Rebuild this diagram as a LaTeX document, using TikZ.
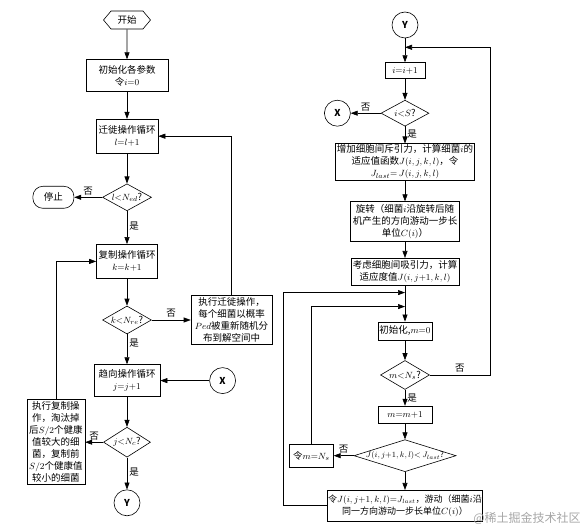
\documentclass[tikz,border=0pt]{standalone}
\usepackage{fontspec}
\setmainfont{Noto Sans CJK SC}
\usepackage{tikz}
\usetikzlibrary{arrows.meta, positioning, shapes.geometric, shapes.symbols}

\begin{document}
\begin{tikzpicture}[
    x=1pt, y=1pt,
    every node/.style={font=\fontsize{9.5}{12}\selectfont},
    box/.style={rectangle, draw, line width=0.6pt, inner sep=1pt,
                align=center},
    term/.style={signal, signal to=west and east, signal pointer angle=100,
                 draw, line width=0.6pt, inner sep=1pt,
                 minimum width=47pt, minimum height=18pt},
    stopbox/.style={box, rounded corners=10pt,
                    minimum width=41pt, minimum height=22pt},
    decision/.style={diamond, draw, line width=0.6pt, aspect=2, inner sep=0pt},
    conn/.style={circle, draw, line width=0.6pt, minimum size=26pt,
                 inner sep=0pt},
    arr/.style={-{Triangle[length=7pt,width=5pt]}, line width=0.6pt},
    lab/.style={inner sep=2pt},
  ]
    \useasboundingbox (0,0) rectangle (588,-529);

    % Left column: migration / reproduction / chemotaxis loops
    \node[term] (start) at (127,-20) {开始};
    \node[box, minimum width=82pt, minimum height=32pt, below=30pt of start]
      (init) {初始化各参数\\令$i{=}0$};
    \node[box, minimum width=62pt, minimum height=34pt, below=27pt of init]
      (mig) {迁徙操作循环\\$l{=}l{+}1$};
    \node[decision, minimum width=49pt, minimum height=27pt, below=30pt of mig]
      (edtest) {$l{<}N_{ed}$?};
    \node[stopbox, left=28pt of edtest] (stop) {停止};
    \node[box, minimum width=61pt, minimum height=34pt, below=33pt of edtest]
      (copy) {复制操作循环\\$k{=}k{+}1$};
    \node[decision, minimum width=47pt, minimum height=28pt, below=27pt of copy]
      (retest) {$k{<}N_{re}$?};
    \node[box, minimum width=81pt, minimum height=49pt, right=39pt of retest]
      (migrun) {执行迁徙操作，\\每个细菌以概率\\$Ped$被重新随机分\\布到解空间中};
    \node[box, minimum width=66pt, minimum height=32pt, below=30pt of retest]
      (chemo) {趋向操作循环\\$j{=}j{+}1$};
    \node[conn, right=49pt of chemo] (xin) {$\mathbf{X}$};
    \node[decision, minimum width=47pt, minimum height=30pt, below=30pt of chemo]
      (ctest) {$j{<}N_c$?};
    \node[box, minimum width=58pt, minimum height=85pt, left=18pt of ctest]
      (copyrun) {执行复制操\\作，淘汰掉\\后$S/2$个健康\\值较大的细\\菌，复制前\\$S/2$个健康值\\较小的细菌};
    \node[conn, below=32pt of ctest] (yout) {$\mathbf{Y}$};

    % Right column: one chemotaxis step of bacterium i
    \node[conn] (yin) at (405,-25) {$\mathbf{Y}$};
    \node[box, minimum width=40pt, minimum height=16pt, below=24pt of yin]
      (inc) {$i{=}i{+}1$};
    \node[decision, minimum width=48pt, minimum height=26pt, below=21pt of inc]
      (stest) {$i{<}S$?};
    \node[conn, left=30pt of stest] (xout) {$\mathbf{X}$};
    \node[box, minimum width=139pt, minimum height=36pt, below=17pt of stest]
      (repel) {增加细胞间斥引力，计算细菌$i$的\\适应值函数$J(i,j,k,l)$，令\\$J_{last}{=}\,J(i,j,k,l)$};
    \node[box, minimum width=109pt, minimum height=40pt, below=21pt of repel]
      (turn) {旋转（细菌$i$沿旋转后随\\机产生的方向游动一步长\\单位$C(i)$）};
    \node[box, minimum width=108pt, minimum height=27pt, below=16pt of turn]
      (attract) {考虑细胞间吸引力，计算\\适应度值$J(i,j{+}1,k,l)$};
    \node[box, minimum width=54pt, minimum height=18pt, below=36pt of attract]
      (minit) {初始化,$m{=}0$};
    \node[decision, minimum width=49pt, minimum height=29pt, below=20pt of minit]
      (mtest) {$m{<}N_s$?};
    \node[box, minimum width=54pt, minimum height=17pt, below=16pt of mtest]
      (minc) {$m{=}m{+}1$};
    \node[decision, aspect=3.2, inner xsep=-6pt, minimum width=102pt,
          minimum height=32pt, below=16pt of minc,
          font=\fontsize{8}{10}\selectfont]
      (jtest) {$J(i,j{+}1,k,l){<}\,J_{last}$?};
    \node[box, minimum width=44pt, minimum height=23pt, left=20pt of jtest]
      (mset) {令$m{=}N_s$};
    \node[box, minimum width=155pt, minimum height=31pt, below=18pt of jtest,
          font=\fontsize{9}{12}\selectfont]
      (swim) {令$J(i,j{+}1,k,l){=}J_{last}$，游动（细菌$i$沿\\同一方向游动一步长单位$C(i)$）};

    % Merge points on the right column
    \coordinate[above=15pt of inc] (loopin);
    \coordinate[below=7pt of attract] (outerin);
    \coordinate[above=15pt of minit] (innerin);

    % Watermark
    \node[text=black!35, font=\fontsize{12}{14}\selectfont] (mark) at (527,-518)
      {@稀土掘金技术社区};

    % Arrows, left column
    \draw[arr] (start) -- (init);
    \draw[arr] (init) -- (mig);
    \draw[arr] (mig) -- (edtest);
    \draw[arr] (edtest) -- node[lab, above]{否} (stop);
    \draw[arr] (edtest) -- node[lab, right, pos=0.45]{是} (copy);
    \draw[arr] (copy) -- (retest);
    \draw[arr] (retest) -- node[lab, above]{否} (migrun);
    \draw[arr] (retest) -- node[lab, right, pos=0.3]{是} (chemo);
    \draw[arr] (xin) -- (chemo);
    \draw[arr] (chemo) -- (ctest);
    \draw[arr] (ctest) -- node[lab, above]{否} (copyrun);
    \draw[arr] (ctest) -- node[lab, right, pos=0.45]{是} (yout);
    \draw[arr] (migrun.north) |- (mig.east);
    \draw[arr] (copyrun.north) |- (copy.west);

    % Arrows, right column
    \draw[arr] (yin) -- (inc);
    \draw[arr] (inc) -- (stest);
    \draw[arr] (stest) -- node[lab, above]{否} (xout);
    \draw[arr] (stest) -- node[lab, right, pos=0.45]{是} (repel);
    \draw[arr] (repel) -- (turn);
    \draw[arr] (turn) -- (attract);
    \draw[arr] (attract) -- (minit);
    \draw[arr] (minit) -- (mtest);
    \draw[arr] (mtest) -- node[lab, right, pos=0.5]{是} (minc);
    \draw[arr] (minc) -- (jtest);
    \draw[arr] (jtest) -- node[lab, above]{否} (mset);
    \draw[arr] (jtest) -- (swim);

    % Feedback loops
    \draw[arr] (mtest.east) -- node[lab, above, pos=0.5]{否} ++(60pt,0) |- (loopin);
    \draw[arr] (mset.north) |- (innerin);
    \draw[arr] (swim.west) -- ++(-44pt,0) |- (outerin);
  \end{tikzpicture}
\end{document}
